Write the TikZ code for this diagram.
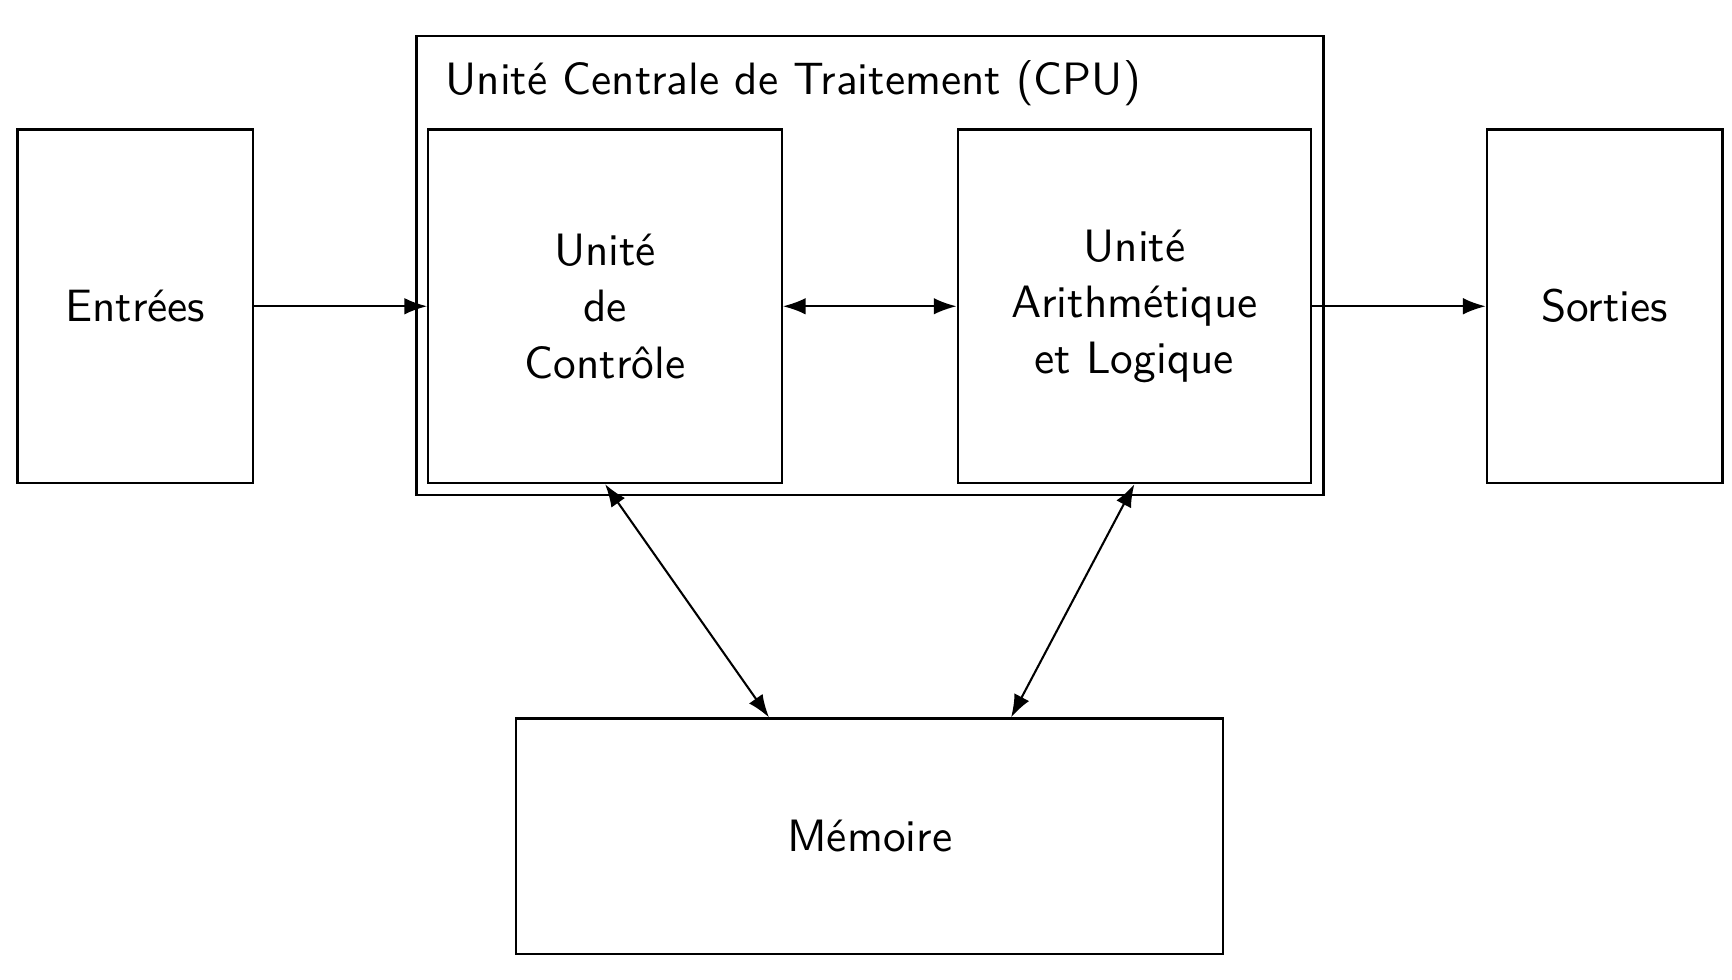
\documentclass[tikz,border=0pt]{standalone}
\usepackage{fontspec}
\usetikzlibrary{arrows.meta,calc}
\begin{document}
\begin{tikzpicture}[
  font=\sffamily\fontsize{10.95}{13.6}\selectfont,
  blk/.style={draw, line width=0.55pt, inner sep=0pt, align=center},
  conn/.style={line width=0.5pt, -{Latex[length=5.5pt,width=4pt]}},
  biconn/.style={line width=0.5pt, {Latex[length=5.5pt,width=4pt]}-{Latex[length=5.5pt,width=4pt]}}
]
\useasboundingbox (0,0) rectangle (14.703,-8.319);
\node[blk, minimum width=7.7cm, minimum height=3.897cm] (cpu) at (7.386,-2.2515) {};
\node[anchor=base west, inner sep=0pt] (title) at (3.775,-0.806) {Unité Centrale de Traitement (CPU)};
\node[blk, minimum width=2cm, minimum height=3cm] (in) at (1.149,-2.6) {Entrées};
\node[blk, minimum width=3cm, minimum height=3cm] (ctrl) at (5.136,-2.6) {Unité\\de\\Contrôle};
\node[blk, minimum width=3cm, minimum height=3cm] (alu) at (9.63,-2.6) {Unité\\Arithmétique\\et Logique};
\node[blk, minimum width=2cm, minimum height=3cm] (out) at (13.622,-2.6) {Sorties};
\node[blk, minimum width=6cm, minimum height=2cm] (mem) at (7.383,-7.1) {Mémoire};
\coordinate (memL) at ($(mem.north)+(-0.855,0)$);
\coordinate (memR) at ($(mem.north)+(1.2,0)$);
\draw[conn] (in) -- (ctrl);
\draw[biconn] (ctrl) -- (alu);
\draw[conn] (alu) -- (out);
\draw[biconn] (ctrl.south) -- (memL);
\draw[biconn] (alu.south) -- (memR);
\end{tikzpicture}
\end{document}
